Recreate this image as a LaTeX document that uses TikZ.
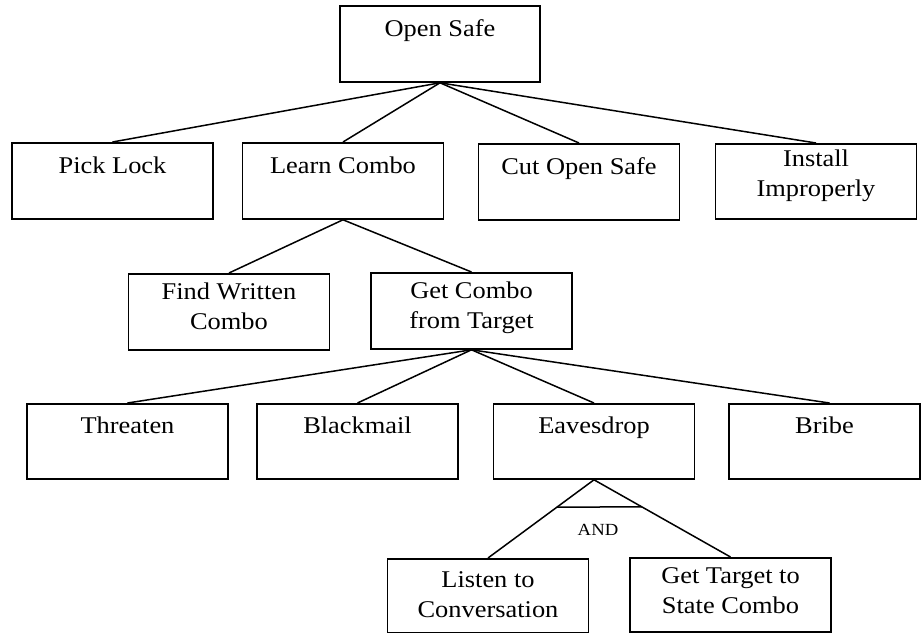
\documentclass[tikz,border=0pt]{standalone}
\usepackage{fontspec}
\setmainfont{Liberation Serif}[FakeStretch=1.1]
\usetikzlibrary{calc}
% two centred lines whose first baseline is the box baseline
\newcommand\twoline[2]{\begin{tabular}[t]{@{}c@{}}#1\\#2\end{tabular}}

\begin{document}
\begin{tikzpicture}[x=1pt,y=-1pt,
  box/.style={draw, line width=1.8pt, anchor=north, minimum width=201pt,
              inner sep=0pt, font=\fontsize{24}{30}\selectfont},
  oneline/.style={text height=31pt, text depth=45pt},
  twolines/.style={text height=26pt, text depth=50pt},
  link/.style={line width=1.5pt},
  gate/.style={font=\fontsize{17}{20}\selectfont, anchor=base}]

\useasboundingbox (0,0) rectangle (921,632);

% root goal
\node[box, oneline, minimum width=200pt] (os) at (440,5) {Open Safe};

% first level
\node[box, oneline] (pl) at (112.5,142) {Pick Lock};
\node[box, oneline] (lc) at (343,142) {Learn Combo};
\node[box, oneline] (co) at (579,143) {Cut Open Safe};
\node[box, twolines, text height=23pt, text depth=52pt] (ii) at (816,143) {\twoline{Install}{Improperly}};

% second level
\node[box, twolines] (fw) at (229,273) {\twoline{Find Written}{Combo}};
\node[box, twolines] (gc) at (471.5,272) {\twoline{Get Combo}{from Target}};

% third level
\node[box, text height=30pt, text depth=45pt] (th) at (127.5,403) {Threaten};
\node[box, text height=30pt, text depth=45pt] (bm) at (357.5,403) {Blackmail};
\node[box, text height=30pt, text depth=45pt] (ev) at (594,403) {Eavesdrop};
\node[box, text height=30pt, text depth=45pt, minimum width=191pt] (br) at (824.5,403) {Bribe};

% fourth level
\node[box, text height=29pt, text depth=45pt] (ls) at (488,558) {\twoline{Listen to}{Conversation}};
\node[box, text height=26pt, text depth=48pt] (gt) at (730.5,557) {\twoline{Get Target to}{State Combo}};

% connectors
\draw[link] (os.south) -- (pl.north);
\draw[link] (os.south) -- (lc.north);
\draw[link] (os.south) -- (co.north);
\draw[link] (os.south) -- (ii.north);

\draw[link] (lc.south) -- (fw.north);
\draw[link] (lc.south) -- (gc.north);

\draw[link] (gc.south) -- (th.north);
\draw[link] (gc.south) -- (bm.north);
\draw[link] (gc.south) -- (ev.north);
\draw[link] (gc.south) -- ([xshift=5pt]br.north);

\draw[link] (ev.south) -- (ls.north);
\draw[link] (ev.south) -- (gt.north);

% AND gate bar across the two branches
\coordinate (andL) at ($(ev.south)!0.35!(ls.north)$);
\coordinate (andR) at ($(ev.south)!0.35!(gt.north)$);
\draw[link] (andL) -- (andR);
\node[gate] (and) at (598,535) {AND};

\end{tikzpicture}
\end{document}
